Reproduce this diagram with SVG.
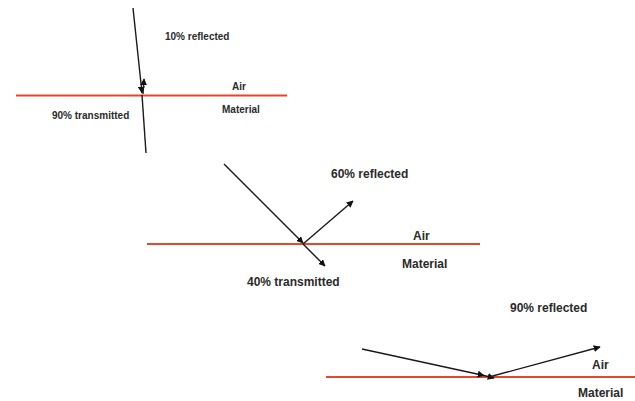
<svg xmlns="http://www.w3.org/2000/svg" width="635" height="401" viewBox="0 0 635 401">
<style>
.t{font-family:"Liberation Sans",Arial,sans-serif;font-weight:bold;fill:#2a2a2a}
.s{font-size:10px}.m{font-size:12px}
.ray{stroke:#1a1a1a;stroke-width:1.4;fill:none}
.surf{stroke:#e4472c;stroke-width:2;fill:none}
</style>
<defs>
<marker id="ah" viewBox="0 0 10 10" refX="9" refY="5" markerWidth="7" markerHeight="7" markerUnits="userSpaceOnUse" orient="auto">
<path d="M0,0 L10,5 L0,10 z" fill="#111"/>
</marker>
</defs>
<rect width="635" height="401" fill="#fff"/>
<g id="surfaces">
<line class="surf" x1="16" y1="95.5" x2="287" y2="95.5"/>
<line class="surf" x1="147" y1="244" x2="480" y2="244"/>
<line class="surf" x1="326" y1="377" x2="635" y2="377"/>
</g>
<g id="connectors">
<line class="ray" x1="133" y1="8" x2="142" y2="93" marker-end="url(#ah)"/>
<line class="ray" x1="143" y1="94" x2="144" y2="79" marker-end="url(#ah)"/>
<line class="ray" x1="142" y1="95" x2="146" y2="153"/>
<line class="ray" x1="224" y1="164" x2="303" y2="243" marker-end="url(#ah)"/>
<line class="ray" x1="303" y1="244" x2="353" y2="201" marker-end="url(#ah)"/>
<line class="ray" x1="303" y1="244" x2="325" y2="266" marker-end="url(#ah)"/>
<line class="ray" x1="362" y1="349" x2="484" y2="375.5" marker-end="url(#ah)"/>
<line class="ray" x1="484" y1="375.5" x2="494" y2="378" marker-end="url(#ah)"/>
<line class="ray" x1="489" y1="377" x2="600" y2="347" marker-end="url(#ah)"/>
</g>
<g id="scene1">
<text class="t s" x="165" y="40">10% reflected</text>
<text class="t s" x="232" y="90">Air</text>
<text class="t s" x="222" y="113">Material</text>
<text class="t s" x="52" y="119">90% transmitted</text>
</g>
<g id="scene2">
<text class="t m" x="331" y="178">60% reflected</text>
<text class="t m" x="413" y="240">Air</text>
<text class="t m" x="402" y="268">Material</text>
<text class="t m" x="247" y="286">40% transmitted</text>
</g>
<g id="scene3">
<text class="t m" x="510" y="312">90% reflected</text>
<text class="t m" x="592" y="369">Air</text>
<text class="t m" x="578" y="397">Material</text>
</g>
</svg>
